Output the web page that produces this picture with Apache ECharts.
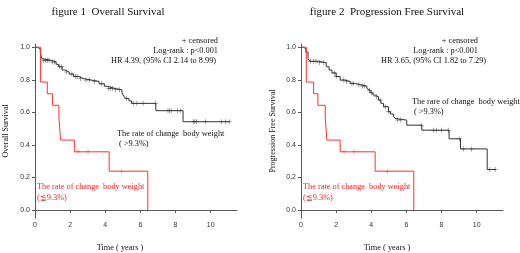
<!DOCTYPE html>
<html>
<head>
<meta charset="utf-8">
<script src="https://cdn.jsdelivr.net/npm/echarts@6/dist/echarts.min.js"></script>
<style>
  html, body { margin: 0; padding: 0; background: #fff; }
  #chart { width: 520px; height: 253px; }
</style>
</head>
<body>
<div id="chart"></div>
<script>
// Kaplan-Meier steps: [time (years), survival]
var osHigh = [[0, 1], [0.15, 0.99], [0.3, 0.97], [0.38, 0.93], [0.45, 0.92], [0.9, 0.91], [1.2, 0.895],
  [1.35, 0.88], [1.55, 0.86], [1.7, 0.848], [1.95, 0.835], [2.2, 0.82], [2.5, 0.808], [2.75, 0.798],
  [3.2, 0.79], [3.65, 0.775], [3.95, 0.76], [4.1, 0.748], [4.5, 0.738], [4.95, 0.72], [5.05, 0.7],
  [5.15, 0.685], [5.35, 0.67], [5.5, 0.655], [6.88, 0.61], [8.43, 0.542], [11.1, 0.542]]
var osLow = [[0, 1], [0.32, 0.786], [0.7, 0.714], [1.0, 0.643], [1.36, 0.571], [1.46, 0.429],
  [2.24, 0.357], [4.22, 0.238], [6.42, 0]]
var pfsHigh = [[0, 1], [0.15, 0.99], [0.28, 0.97], [0.4, 0.93], [0.5, 0.914], [1.0, 0.905], [1.44, 0.88],
  [1.6, 0.86], [1.76, 0.842], [2.0, 0.82], [2.23, 0.798], [2.5, 0.79], [2.8, 0.777], [3.1, 0.77],
  [3.37, 0.761], [3.75, 0.747], [3.85, 0.735], [3.94, 0.72], [4.1, 0.706], [4.22, 0.695], [4.41, 0.675],
  [4.55, 0.655], [4.7, 0.634], [4.98, 0.603], [5.1, 0.59], [5.26, 0.575], [5.36, 0.562], [5.42, 0.552],
  [6.02, 0.521], [6.88, 0.49], [8.43, 0.437], [9.08, 0.375], [10.6, 0.248], [11.1, 0.248]]
var pfsLow = [[0, 1], [0.3, 0.786], [0.72, 0.714], [0.96, 0.643], [1.38, 0.571], [1.47, 0.429],
  [2.23, 0.357], [4.22, 0.238], [6.42, 0]]

// censored times
var osHighCens = [0.5, 0.6, 0.7, 0.8, 1.0, 1.1, 1.4, 1.5, 1.8, 2.1, 2.3, 2.4, 2.6, 2.9, 3.1, 3.4, 3.8,
  4.2, 4.3, 4.4, 4.6, 4.8, 5.2, 5.6, 5.8, 6.15, 6.85, 7.57, 7.65, 7.75, 8.1, 8.28, 9.03, 9.1, 9.19,
  9.72, 10.6, 10.85, 11.05]
var osLowCens = [2.45, 3.02, 4.94]
var pfsHighCens = [0.55, 0.7, 0.85, 1.05, 1.3, 1.9, 2.0, 2.4, 2.6, 2.9, 3.0, 3.3, 3.5, 3.6, 3.9, 4.0,
  4.3, 4.5, 4.8, 5.0, 5.49, 5.68, 6.85, 7.54, 7.72, 8.0, 8.38, 9.01, 9.24, 9.72, 10.75, 11.05]
var pfsLowCens = [2.45, 3.02, 4.94]

var xTicks = [0, 2, 4, 6, 8, 10]
var yTicks = [0, 0.2, 0.4, 0.6, 0.8, 1.0]

var serif = 'Liberation Serif'
var plus = 'path://M4.5,0h1v4.5h4.5v1h-4.5v4.5h-1v-4.5h-4.5v-1h4.5z'

function survAt (curve, t) {
  var s = curve[0][1]
  for (var i = 0; i < curve.length; i++) {
    if (curve[i][0] <= t) s = curve[i][1]
  }
  return s
}

function censPoints (curve, times) {
  return times.map(function (t) { return [t, survAt(curve, t)] })
}

function xAxis (idx) {
  return {
    gridIndex: idx, type: 'value', min: 0, max: 11.5,
    axisLine: { lineStyle: { color: '#555', width: 1 } },
    axisTick: { length: 3, lineStyle: { color: '#555' }, customValues: xTicks },
    axisLabel: { customValues: xTicks, fontSize: 7, color: '#333', margin: 4, fontFamily: 'Liberation Sans' },
    splitLine: { show: false }
  }
}

function yAxis (idx) {
  return {
    gridIndex: idx, type: 'value', min: -0.05, max: 1.02,
    axisLine: { show: true, lineStyle: { color: '#555', width: 1 } },
    axisTick: { show: true, length: 3, lineStyle: { color: '#555' }, customValues: yTicks },
    axisLabel: {
      customValues: yTicks, fontSize: 7, color: '#333', margin: 5, fontFamily: 'Liberation Sans',
      formatter: function (v) { return v.toFixed(1) }
    },
    splitLine: { show: false }
  }
}

function stepLine (idx, data, color) {
  return {
    type: 'line', xAxisIndex: idx, yAxisIndex: idx, step: 'end', data: data,
    showSymbol: false, silent: true, lineStyle: { color: color, width: 1 }
  }
}

function censSeries (idx, data, color) {
  return {
    type: 'scatter', xAxisIndex: idx, yAxisIndex: idx, data: data, symbol: plus,
    symbolSize: 5, silent: true, itemStyle: { color: color }
  }
}

function txt (x, y, text, opts) {
  opts = opts || {}
  return {
    type: 'text', x: x, y: y, silent: true, rotation: opts.rotation || 0,
    style: {
      text: text, fill: opts.color || '#111', font: (opts.size || 8.3) + 'px "' + serif + '"',
      textAlign: opts.align || 'left', textVerticalAlign: 'middle'
    }
  }
}

var option = {
  animation: false,
  grid: [
    { left: 35, top: 44, width: 202, height: 174 },
    { left: 301, top: 44, width: 202, height: 174 }
  ],
  xAxis: [xAxis(0), xAxis(1)],
  yAxis: [yAxis(0), yAxis(1)],
  series: [
    stepLine(0, osHigh, '#333'),
    stepLine(0, osLow, '#ff3030'),
    censSeries(0, censPoints(osHigh, osHighCens), '#222'),
    censSeries(0, censPoints(osLow, osLowCens), '#ff3030'),
    stepLine(1, pfsHigh, '#333'),
    stepLine(1, pfsLow, '#ff3030'),
    censSeries(1, censPoints(pfsHigh, pfsHighCens), '#222'),
    censSeries(1, censPoints(pfsLow, pfsLowCens), '#ff3030')
  ],
  graphic: [
    txt(108, 12, 'figure 1  Overall Survival', { size: 11, align: 'center' }),
    txt(387, 12, 'figure 2  Progression Free Survival', { size: 11, align: 'center' }),
    txt(218, 41, '+ censored', { align: 'right' }),
    txt(218, 51, 'Log-rank : p<0.001', { align: 'right' }),
    txt(111, 61, 'HR 4.39, (95% CI 2.14 to 8.99)'),
    txt(478, 41, '+ censored', { align: 'right' }),
    txt(478, 51, 'Log-rank : p<0.001', { align: 'right' }),
    txt(381, 61, 'HR 3.65, (95% CI 1.82 to 7.29)'),
    txt(117, 134, 'The rate of change  body weight'),
    txt(119, 144, '( >9.3%)'),
    txt(412, 102, 'The rare of change  body weight'),
    txt(414, 112, '( >9.3%)'),
    txt(37, 187, 'The rate of change  body weight', { color: '#ff2020' }),
    txt(37, 198, '(\u22669.3%)', { color: '#ff2020' }),
    txt(303, 187, 'The rate of change  body weight', { color: '#ff2020' }),
    txt(303, 198, '(\u22669.3%)', { color: '#ff2020' }),
    txt(120, 248, 'Time ( years )', { align: 'center' }),
    txt(387, 248, 'Time ( years )', { align: 'center' }),
    txt(6, 131, 'Overall Survival', { size: 8, align: 'center', rotation: Math.PI / 2 }),
    txt(273, 131, 'Progression Free Survival', { size: 8, align: 'center', rotation: Math.PI / 2 })
  ]
}

var chart = echarts.init(document.getElementById('chart'))
chart.setOption(option)
</script>
</body>
</html>
